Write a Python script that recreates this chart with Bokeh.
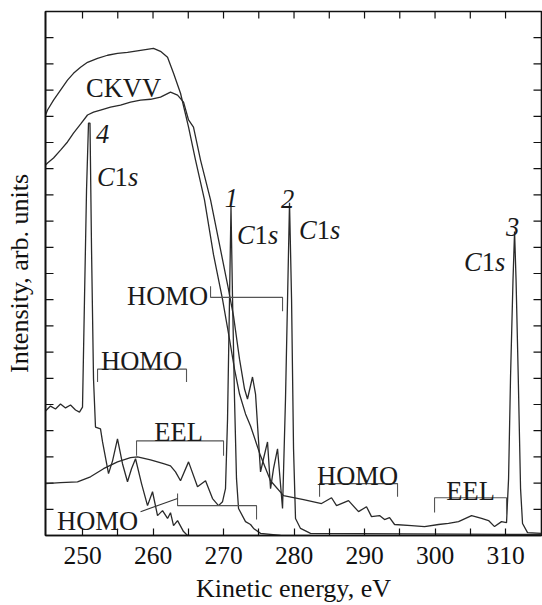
import math
from bokeh.plotting import figure
from bokeh.models import LinearAxis, FixedTicker, Label, Range1d
from bokeh.embed import file_html
from bokeh.resources import INLINE

FONT = "'Liberation Serif'"

# ---- axis limits and ticks ----
x_lo, x_hi = 244.75, 315.1
y_lo, y_hi = 0, 20
x_major = [250, 260, 270, 280, 290, 300, 310]
x_minor = [255, 265, 275, 285, 295, 305]
y_major = list(range(1, 20))

# ---- spectrum 3: upper CKVV curve, smooth descent, HOMO/EEL, C1s at 311 eV ----
s3_e = [244.75, 245.04, 245.89, 246.88, 247.87, 248.72, 249.72, 250.71, 252.13, 253.55,
        254.96, 256.38, 258.23, 260.07, 261.06, 262.06, 262.91, 263.90, 265.04, 266.03,
        267.30, 268.58, 269.86, 270.85, 271.56, 272.27, 273.12, 273.83, 275.25, 276.67,
        278.51, 281.35, 283.90, 285.32, 286.03, 287.73, 289.15, 290.28, 290.99, 292.13,
        292.84, 293.55, 294.26, 296.67, 298.51, 300.50, 301.91, 303.33, 305.18, 306.60,
        307.59, 308.44, 309.43, 310.14, 310.43, 310.71, 311.06, 311.28, 311.49, 311.80,
        312.13, 312.41, 313.12, 315.10]
s3_i = [16.05, 16.24, 16.62, 17.00, 17.38, 17.64, 17.87, 18.06, 18.21, 18.33,
        18.40, 18.44, 18.52, 18.59, 18.48, 18.25, 17.64, 16.88, 15.59, 14.33,
        12.81, 10.72, 9.01, 7.49, 6.35, 5.40, 4.64, 4.18, 3.04, 2.09,
        1.52, 1.37, 1.22, 1.44, 1.14, 1.33, 0.91, 1.10, 0.72, 0.76,
        0.61, 0.68, 0.42, 0.38, 0.34, 0.42, 0.46, 0.53, 0.76, 0.65,
        0.57, 0.34, 0.53, 0.49, 2.17, 6.08, 9.77, 11.60, 9.77, 6.08,
        1.79, 0.46, 0.11, 0.08]

# ---- spectrum 2: lower CKVV curve, structured descent, C1s at 279 eV ----
s2_e = [244.75, 245.04, 245.89, 246.88, 247.87, 248.72, 249.72, 250.71, 251.56, 252.55,
        253.97, 255.39, 256.81, 258.23, 259.65, 261.06, 262.48, 263.48, 264.33, 265.04,
        265.74, 266.74, 268.16, 269.86, 270.57, 271.42, 272.27, 272.98, 273.40, 274.11,
        274.54, 275.25, 275.67, 276.24, 276.67, 277.09, 277.66, 278.37, 278.79, 279.08,
        279.36, 279.65, 279.93, 280.21, 280.92, 282.34, 315.10]
s2_i = [14.14, 14.22, 14.41, 14.71, 15.02, 15.36, 15.70, 16.05, 16.16, 16.24,
        16.35, 16.43, 16.54, 16.62, 16.65, 16.73, 16.92, 16.81, 16.54, 15.86,
        15.59, 14.33, 12.81, 10.53, 9.58, 8.37, 6.73, 5.59, 5.21, 6.05,
        5.40, 2.43, 2.93, 3.57, 1.79, 2.55, 3.31, 1.03, 5.21, 9.01,
        12.70, 9.01, 3.31, 0.65, 0.27, 0.08, 0.04]

# ---- spectrum 1: EEL structure, C1s at 271 eV ----
s1_e = [244.75, 246.88, 249.29, 251.13, 252.98, 254.96, 256.81, 257.80, 259.65, 261.49,
        262.48, 263.19, 263.90, 265.04, 266.31, 267.45, 268.44, 269.29, 269.86, 270.28,
        270.57, 270.85, 271.06, 271.28, 271.56, 271.84, 272.13, 273.12, 273.83, 274.26,
        275.25, 278.09]
s1_i = [1.98, 2.02, 2.05, 2.24, 2.55, 2.81, 2.97, 3.00, 2.89, 2.74,
        2.66, 2.43, 2.09, 2.81, 1.86, 2.09, 1.41, 1.14, 1.29, 1.79,
        4.45, 9.01, 12.55, 9.01, 5.21, 2.17, 1.03, 0.53, 0.42, 0.27,
        0.08, 0.0]

# ---- spectrum 4: C1s at 251 eV with HOMO structure ----
s4_e = [244.75, 245.46, 246.17, 246.88, 247.59, 248.30, 249.01, 249.57, 250.00, 250.28,
        250.57, 250.85, 251.06, 251.28, 251.56, 251.84, 252.55, 252.84, 253.69, 254.26,
        254.96, 255.67, 256.38, 256.95, 257.52, 258.37, 259.22, 259.93, 260.64, 261.35,
        262.06, 262.48, 262.91, 263.48, 264.33, 264.89]
s4_i = [4.75, 4.94, 4.83, 5.02, 4.87, 4.98, 4.79, 4.71, 4.90, 9.01,
        13.19, 15.74, 15.74, 10.91, 5.97, 4.14, 4.07, 3.57, 2.36, 2.85,
        3.69, 2.74, 2.05, 2.55, 2.93, 1.98, 1.14, 1.67, 0.76, 0.95,
        0.65, 0.87, 0.38, 0.57, 0.15, 0.0]

# ---- brackets: start eV, end eV, bar level, left-leg end, right-leg end ----
br_x0 = [252.13, 257.66, 263.48, 268.16, 283.62, 299.93]
br_x1 = [264.75, 270.00, 274.68, 278.37, 294.68, 310.14]
br_y = [6.35, 3.61, 1.14, 9.09, 1.98, 1.44]
br_yl = [5.86, 3.04, 1.60, 9.51, 1.48, 0.88]
br_yr = [5.86, 3.04, 0.61, 8.56, 1.48, 0.80]

# leader line from lower-left HOMO text to its bracket
lead_e = [258.23, 263.48]
lead_i = [0.91, 1.41]

# ---- plain text labels (centre x in eV, baseline in arb. units) ----
txt = ["CKVV", "HOMO", "EEL", "HOMO", "HOMO", "HOMO", "EEL"]
txt_e = [255.82, 258.37, 263.62, 252.13, 262.06, 289.01, 305.04]
txt_i = [17.07, 6.65, 3.95, 0.57, 9.13, 2.28, 1.71]

# ---- curve numbers (italic) ----
num = ["4", "1", "2", "3"]
num_e = [252.84, 271.13, 279.08, 310.99]
num_i = [15.32, 12.89, 12.85, 11.79]

# ---- "C1s" labels (centre x, baseline) ----
c1s_e = [254.96, 274.82, 283.62, 307.02]
c1s_i = [13.69, 11.46, 11.67, 10.42]

p = figure(width=542, height=605, x_range=Range1d(x_lo, x_hi), y_range=Range1d(y_lo, y_hi),
           output_backend="svg", toolbar_location=None,
           min_border_left=45, min_border_right=1, min_border_top=11, min_border_bottom=68,
           x_axis_location=None, y_axis_location=None)
p.grid.visible = False
p.outline_line_color = "#111111"
p.outline_line_width = 1.6
p.background_fill_color = "white"
p.border_fill_color = "white"

INK = "#111111"

xb = LinearAxis(ticker=FixedTicker(ticks=x_major, minor_ticks=x_minor),
                axis_label="Kinetic energy, eV")
xb.axis_line_width = 1.6
xb.axis_line_color = INK
xb.major_tick_in = 7
xb.major_tick_out = 0
xb.minor_tick_in = 7
xb.minor_tick_out = 0
xb.major_tick_line_width = 1.2
xb.minor_tick_line_width = 1.2
xb.major_tick_line_color = INK
xb.minor_tick_line_color = INK
xb.major_label_text_font = FONT
xb.major_label_text_font_size = "25.5px"
xb.major_label_text_color = INK
xb.major_label_standoff = 11
xb.axis_label_standoff = 7
xb.axis_label_text_font = FONT
xb.axis_label_text_font_size = "26px"
xb.axis_label_text_font_style = "normal"
xb.axis_label_text_color = INK
p.add_layout(xb, "below")

yl = LinearAxis(ticker=FixedTicker(ticks=[], minor_ticks=[]),
                axis_label="Intensity, arb. units")
yl.axis_line_width = 1.6
yl.axis_line_color = INK
yl.major_label_standoff = 0
yl.axis_label_standoff = 12
yl.axis_label_text_font = FONT
yl.axis_label_text_font_size = "26px"
yl.axis_label_text_font_style = "normal"
yl.axis_label_text_color = INK
p.add_layout(yl, "left")

# inward ticks on the top, left and right frame edges
top_x = x_major + x_minor
p.ray(x=top_x, y=[y_hi] * len(top_x), length=7, length_units="screen",
      angle=-math.pi / 2, line_color=INK, line_width=1.2)
p.ray(x=[x_lo] * len(y_major), y=y_major, length=8, length_units="screen",
      angle=0, line_color=INK, line_width=1.2)
p.ray(x=[x_hi] * len(y_major), y=y_major, length=8, length_units="screen",
      angle=math.pi, line_color=INK, line_width=1.2)

LC = "#2a2a2a"
for e, i in [(s3_e, s3_i), (s2_e, s2_i), (s1_e, s1_i), (s4_e, s4_i)]:
    p.line(e, i, line_color=LC, line_width=1.3)

bx = [[a, a, b, b] for a, b in zip(br_x0, br_x1)]
by = [[l, y, y, r] for y, l, r in zip(br_y, br_yl, br_yr)]
p.multi_line(bx, by, line_color="#555555", line_width=1.1)
p.line(lead_e, lead_i, line_color="#333333", line_width=1.1)

FS = "26.5px"
for t, e, i in zip(txt, txt_e, txt_i):
    p.add_layout(Label(x=e, y=i, text=t, text_font=FONT, text_font_size=FS,
                       text_align="center", text_baseline="alphabetic", text_color="#1a1a1a"))
for t, e, i in zip(num, num_e, num_i):
    p.add_layout(Label(x=e, y=i, text=t, text_font=FONT, text_font_size=FS,
                       text_font_style="italic",
                       text_align="center", text_baseline="alphabetic", text_color="#1a1a1a"))
for e, i in zip(c1s_e, c1s_i):
    for part, off, style_ in [("C", -20.6, "italic"), ("1", -2.9, "normal"), ("s", 10.4, "italic")]:
        p.add_layout(Label(x=e, y=i, x_offset=off, text=part, text_font=FONT,
                           text_font_size=FS, text_font_style=style_,
                           text_align="left", text_baseline="alphabetic", text_color="#1a1a1a"))

open("out.html", "w").write(file_html(p, INLINE))
